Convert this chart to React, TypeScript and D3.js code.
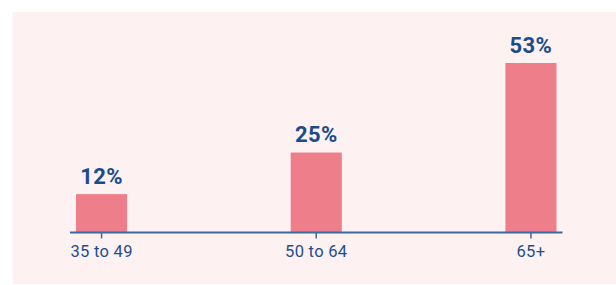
import React from "react";
import * as d3 from "d3";

const categories = ["35 to 49", "50 to 64", "65+"];
const values = [12, 25, 53];
const valueLabels = ["12%", "25%", "53%"];

const W = 616;
const H = 285;
const baseY = 232.5;

export default function App() {
  const x = d3
    .scaleBand<string>()
    .domain(categories)
    .range([70, 562.5])
    .paddingInner(0.762)
    .paddingOuter(0.028);
  const y = d3.scaleLinear().domain([0, 53]).range([baseY, 63]);

  return (
    <svg
      width={W}
      height={H}
      style={{ position: "absolute", left: 0, top: 0, display: "block" }}
      fontFamily="Roboto, Liberation Sans, Arial, sans-serif"
    >
      <rect x={12.5} y={12} width={W - 12.5} height={272} fill="#fdf1f1" />
      {categories.map((c, i) => (
        <rect
          key={c}
          x={x(c)!}
          y={y(values[i])}
          width={x.bandwidth()}
          height={baseY - y(values[i])}
          fill="#ee7e8a"
        />
      ))}
      <line x1={x.range()[0]} x2={x.range()[1]} y1={baseY} y2={baseY} stroke="#3a6aa6" strokeWidth={2} />
      {categories.map((c) => {
        const cx = x(c)! + x.bandwidth() / 2;
        return (
          <g key={"t" + c}>
            <line x1={cx} x2={cx} y1={baseY} y2={baseY + 6} stroke="#3a6aa6" strokeWidth={1.5} />
            <text x={cx} y={256.5} textAnchor="middle" fontSize={16.5} fontWeight={400} fill="#1d4e8f" letterSpacing={0.3}>
              {c}
            </text>
          </g>
        );
      })}
      {categories.map((c, i) => (
        <text
          key={"v" + c}
          x={x(c)! + x.bandwidth() / 2}
          y={y(values[i]) - 10.5}
          textAnchor="middle"
          fontSize={22}
          fontWeight="bold"
          fill="#1a4b8c"
          letterSpacing={0.4}
        >
          {valueLabels[i]}
        </text>
      ))}
    </svg>
  );
}
